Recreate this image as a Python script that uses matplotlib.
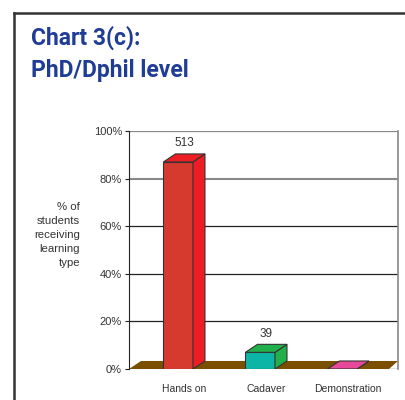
import numpy as np
import matplotlib.pyplot as plt
from matplotlib.patches import Polygon
from matplotlib.lines import Line2D

plt.rcParams['font.family'] = ['Liberation Sans', 'DejaVu Sans']

categories = ["Hands on", "Cadaver", "Demonstration"]
percents = [87.0, 7.0, 0.0]
counts = ["513", "39", ""]
y_ticks = [0, 20, 40, 60, 80, 100]
y_tick_labels = ["0%", "20%", "40%", "60%", "80%", "100%"]

front_cols = ["#d63a2e", "#0db5a6", "#e8489a"]
side_cols = ["#ee1c24", "#22b04b", "#e8489a"]
floor_col = "#7a5000"

W, H = 406, 400
fig = plt.figure(figsize=(W / 100, H / 100), dpi=100)

# page frame (top and left edges only)
fig.add_artist(Line2D([14 / W, 14 / W], [0, 1 - 13 / H], color="#333333", lw=1.8))
fig.add_artist(Line2D([14 / W, 1], [1 - 13 / H, 1 - 13 / H], color="#333333", lw=1.8))

fig.text(31 / W, 1 - 26 / H, "Chart 3(c):\nPhD/Dphil level", color="#1f3c96",
         fontsize=16.5, fontweight="bold", family=["Roboto", "DejaVu Sans"],
         va="top", ha="left", linespacing=1.45)

ax = fig.add_axes([129 / W, 1 - 369 / H, (398 - 129) / W, (369 - 131) / H])
xmin, xmax = -0.6, 2.68
ax.set_xlim(xmin, xmax)
ax.set_ylim(0, 100)

# depth of the pseudo-3D look, in data units
dx = 12 / 269 * (xmax - xmin)
dy = 8 / 238 * 100
bw = 0.36

for sp in ["top", "bottom"]:
    ax.spines[sp].set_visible(False)
ax.spines["left"].set_color("#222222")
ax.spines["right"].set_color("#888888")
ax.spines["right"].set_linewidth(1.2)

for t in y_ticks[1:]:
    c = "#888888" if t in (80, 100) else "#222222"
    lw = 1.5 if t == 80 else 0.9
    ax.axhline(t, color=c, lw=lw, zorder=1)
ax.axhline(0, color="#222222", lw=0.9, zorder=1)

# floor
ax.add_patch(Polygon([(xmin, 0), (xmin + dx, dy), (xmax, dy), (xmax - dx * 0.75, 0)],
                     closed=True, facecolor=floor_col, edgecolor="none", zorder=2))

x = np.arange(len(categories))
for i in range(len(categories)):
    x0 = x[i] - bw / 2
    x1 = x[i] + bw / 2
    h = percents[i]
    ec = "#333333"
    ax.add_patch(Polygon([(x0, 0), (x1, 0), (x1, h), (x0, h)], closed=True,
                         facecolor=front_cols[i], edgecolor=ec, lw=0.8, zorder=3))
    ax.add_patch(Polygon([(x1, 0), (x1 + dx, dy), (x1 + dx, h + dy), (x1, h)], closed=True,
                         facecolor=side_cols[i], edgecolor=ec, lw=0.8, zorder=3))
    ax.add_patch(Polygon([(x0, h), (x1, h), (x1 + dx, h + dy), (x0 + dx, h + dy)], closed=True,
                         facecolor=side_cols[i], edgecolor=ec, lw=0.8, zorder=3))
    if counts[i]:
        ax.text(x[i] + dx / 2, h + dy + 2, counts[i], ha="center", va="bottom",
                fontsize=8.5, color="#333333")

ax.set_yticks(y_ticks)
ax.set_yticklabels(y_tick_labels, fontsize=8, color="#333333")
ax.tick_params(axis="y", length=3, color="#222222", pad=2)
ax.set_xticks(x + dx / 2)
ax.set_xticklabels(categories, fontsize=7.5, color="#333333")
ax.tick_params(axis="x", length=0, pad=11)

fig.text(80 / W, 1 - 235 / H, "% of\nstudents\nreceiving\nlearning\ntype",
         ha="right", va="center", fontsize=8.2, color="#333333", linespacing=1.5)

fig.savefig("out.png", dpi=100)
